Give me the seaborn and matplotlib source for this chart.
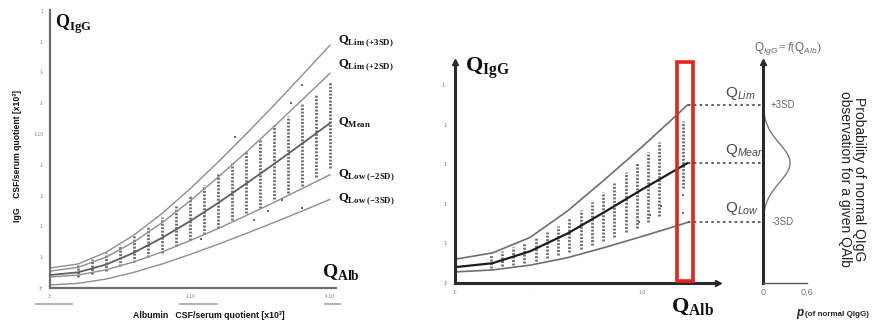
import matplotlib
matplotlib.use("Agg")
import matplotlib.pyplot as plt
import matplotlib.transforms as mtransforms
from matplotlib.patches import Rectangle
import pandas as pd
import seaborn as sns

# ---------------- left panel: Reiber diagram, QAlb vs QIgG ----------------
alb_grid = [0, 1, 2, 3, 4, 5, 6, 7, 8, 9, 10]
q_lim_3sd = [0.65, 0.78, 1.16, 1.72, 2.42, 3.22, 4.09, 5.00, 5.94, 6.91, 7.89]
q_lim_2sd = [0.55, 0.67, 1.00, 1.50, 2.12, 2.83, 3.60, 4.41, 5.25, 6.11, 6.98]
q_mean = [0.42, 0.51, 0.76, 1.15, 1.63, 2.17, 2.76, 3.39, 4.03, 4.69, 5.36]
q_low_2sd = [0.36, 0.42, 0.59, 0.85, 1.17, 1.54, 1.93, 2.35, 2.78, 3.23, 3.68]
q_low_3sd = [0.10, 0.15, 0.29, 0.51, 0.78, 1.09, 1.42, 1.77, 2.13, 2.50, 2.88]
curve_names = ["Lim (+3SD)", "Lim (+2SD)", "Mean", "Low (-2SD)", "Low (-3SD)"]

# stacked patient observations, one column per QAlb class
obs_alb = [1.0, 1.5, 2.0, 2.5, 3.0, 3.5, 4.0, 4.5, 5.0, 5.5, 6.0, 6.5, 7.0,
           7.5, 8.0, 8.5, 9.0, 9.5, 10.0]
obs_top = [0.75, 0.95, 1.15, 1.40, 1.70, 2.00, 2.30, 2.65, 3.00, 3.35, 3.70,
           4.05, 4.45, 4.85, 5.30, 5.60, 6.00, 6.30, 6.70]
obs_bot = [0.35, 0.45, 0.55, 0.70, 0.85, 1.00, 1.15, 1.35, 1.55, 1.75, 1.95,
           2.20, 2.45, 2.60, 2.90, 3.10, 3.30, 3.60, 3.90]
single_alb = [9.0, 8.6, 9.0, 8.3, 7.3, 5.4, 6.6, 7.8]
single_igg = [6.6, 6.0, 2.6, 2.85, 2.2, 1.6, 4.9, 2.5]

x_tick_labels = ["1⁰", "", "", "", "", "1·10", "", "", "", "", "4·10"]
y_tick_labels = ["1⁰", "1·", "1·", "1·", "1·", "1·10", "1·", "1·", "1·", "1"]

# ---------------- right panel: one QAlb class in detail ----------------
alb_r = [0, 1, 2, 3, 4, 5, 6, 6.2]
r_upper = [0.60, 0.76, 1.15, 1.82, 2.62, 3.45, 4.32, 4.50]
r_mean = [0.40, 0.50, 0.80, 1.25, 1.80, 2.37, 2.92, 3.03]
r_lower = [0.28, 0.33, 0.45, 0.64, 0.90, 1.18, 1.47, 1.53]

r_obs_alb = [0.95, 1.25, 1.55, 1.85, 2.15, 2.45, 2.75, 3.05, 3.35, 3.65, 3.95,
             4.25, 4.55, 4.85, 5.15, 5.45, 6.08]
r_obs_top = [0.72, 0.82, 0.92, 1.02, 1.15, 1.30, 1.45, 1.65, 1.85, 2.05, 2.30,
             2.55, 2.80, 3.05, 3.30, 3.55, 4.10]
r_obs_bot = [0.38, 0.42, 0.46, 0.50, 0.55, 0.62, 0.70, 0.78, 0.86, 0.95, 1.05,
             1.15, 1.28, 1.40, 1.55, 1.70, 2.40]
r_single_alb = [6.08, 6.08, 5.2, 4.9, 5.5]
r_single_igg = [2.22, 1.77, 1.72, 1.55, 1.95]
selected_alb = (5.92, 6.35)

# distribution of QIgG within the selected class
z_sd = [-3.0, -2.75, -2.5, -2.25, -2.0, -1.75, -1.5, -1.25, -1.0, -0.75, -0.5,
        -0.25, 0.0, 0.25, 0.5, 0.75, 1.0, 1.25, 1.5, 1.75, 2.0, 2.25, 2.5,
        2.75, 3.0]
p_obs = [0.004, 0.008, 0.016, 0.029, 0.05, 0.08, 0.12, 0.169, 0.224, 0.279,
         0.327, 0.359, 0.37, 0.359, 0.327, 0.279, 0.224, 0.169, 0.12, 0.08,
         0.05, 0.029, 0.016, 0.008, 0.004]

# ---------------- styling ----------------
sns.set_theme(style="white")
plt.rcParams.update({
    "font.family": ["Liberation Sans", "DejaVu Sans"],
    "mathtext.fontset": "custom",
    "mathtext.rm": "Liberation Serif",
    "mathtext.bf": "Liberation Serif:bold",
    "mathtext.sf": "Liberation Sans",
    "mathtext.it": "Liberation Sans:italic",
})

W, H = 894, 323
fig = plt.figure(figsize=(W / 100, H / 100), dpi=100)

DOT = (0, (0.7, 0.55))
DOT_COLOR = "#6a6a6a"


def box(l, t, r, b):
    return fig.add_axes([l / W, 1 - b / H, (r - l) / W, (b - t) / H])


def fx(px):
    return px / W


def fy(py):
    return 1 - py / H


# ======== left panel ========
ax1 = box(50, 10, 336, 288)
ax1.set_xlim(0, 10.21)
ax1.set_ylim(0, 9.03)
sns.despine(ax=ax1)
for s in ("left", "bottom"):
    ax1.spines[s].set_color("#6e6e6e")
    ax1.spines[s].set_linewidth(1.6)
ax1.set_xticks(range(11))
ax1.set_yticks(range(10))
ax1.set_xticklabels(x_tick_labels)
ax1.set_yticklabels(y_tick_labels)
ax1.tick_params(length=3, width=1, color="#6e6e6e", labelsize=3.5,
                labelcolor="#8a7aa8", pad=1.5)

ax1.vlines(obs_alb, obs_bot, obs_top, colors=DOT_COLOR, linewidth=2.0,
           linestyles=DOT)
sns.scatterplot(x=single_alb, y=single_igg, ax=ax1, s=3, marker="s",
                color=DOT_COLOR, linewidth=0)

left_curves = [q_lim_3sd, q_lim_2sd, q_mean, q_low_2sd, q_low_3sd]
label_dy = [3, 6, 0, 0, 0]
for name, vals, dy in zip(curve_names, left_curves, label_dy):
    df = pd.DataFrame({"alb": alb_grid, "igg": vals})
    is_mean = name == "Mean"
    sns.lineplot(data=df, x="alb", y="igg", ax=ax1, estimator=None, sort=False,
                 color="#5e5e5e" if is_mean else "#8e8e8e",
                 linewidth=1.3 if is_mean else 1.0)
    ax1.annotate(r"$\mathbf{Q}_{\mathbf{" + name.replace(" ", r"\ ") + "}}$",
                 xy=(alb_grid[-1], vals[-1]), xytext=(6, dy),
                 textcoords="offset points", fontsize=9, va="center",
                 ha="left", color="#111111", annotation_clip=False)
ax1.set_xlabel("")
ax1.set_ylabel("")

# underline marks below the tick labels
blend = mtransforms.blended_transform_factory(ax1.transData, ax1.transAxes)
for x0, x1 in [(-0.5, 0.8), (4.64, 5.96), (9.82, 10.36)]:
    ax1.plot([x0, x1], [-0.058, -0.058], transform=blend, clip_on=False,
             color="#b4b4b4", linewidth=1.5)

fig.text(fx(55), fy(28), r"$\mathbf{Q}_{\mathbf{IgG}}$", fontsize=13,
         color="#111111", ha="left", va="baseline")
fig.text(fx(322), fy(277), r"$\mathbf{Q}_{\mathbf{Alb}}$", fontsize=14,
         color="#111111", ha="left", va="baseline")
fig.text(fx(209), fy(316), "Albumin   CSF/serum quotient [x10³]",
         fontsize=6.3, fontweight="bold", ha="center", va="center",
         color="#111111")
fig.text(fx(18), fy(156), "IgG    CSF/serum quotient [x10³]",
         fontsize=6.2, fontweight="bold", ha="center", va="center",
         rotation=90, color="#111111")

# ======== right panel ========
ax2 = box(455, 62, 718, 283)
ax2.set_xlim(0, 7.01)
ax2.set_ylim(0, 5.58)
sns.despine(ax=ax2)
for s in ("left", "bottom"):
    ax2.spines[s].set_color("#2a2a2a")
    ax2.spines[s].set_linewidth(2.2)
ax2.set_xticks(range(7))
ax2.set_yticks(range(6))
ax2.set_xticklabels(["1⁰", "", "·", "", "", "1·0", ""])
ax2.set_yticklabels(["1⁰", "1·", "1·", "1·", "1·", "1··"])
ax2.tick_params(length=3, width=1.4, color="#2a2a2a", labelsize=3.5,
                labelcolor="#5a72c0", pad=2)
ax2.plot(0, 1, marker="^", ms=5, color="#2a2a2a", transform=ax2.transAxes,
         clip_on=False)
ax2.plot(1, 0, marker=">", ms=5, color="#2a2a2a", transform=ax2.transAxes,
         clip_on=False)

ax2.vlines(r_obs_alb, r_obs_bot, r_obs_top, colors=DOT_COLOR, linewidth=2.0,
           linestyles=DOT)
sns.scatterplot(x=r_single_alb, y=r_single_igg, ax=ax2, s=3, marker="s",
                color=DOT_COLOR, linewidth=0)
for vals, col, lw in [(r_upper, "#6e6e6e", 1.2), (r_lower, "#6e6e6e", 1.2),
                      (r_mean, "#1c1c1c", 1.6)]:
    sns.lineplot(x=alb_r, y=vals, ax=ax2, estimator=None, sort=False,
                 color=col, linewidth=lw)
ax2.set_xlabel("")
ax2.set_ylabel("")

ax2.add_patch(Rectangle((selected_alb[0], 0.05), selected_alb[1] - selected_alb[0],
                        5.53, fill=False, edgecolor="#e3251c", linewidth=2.6,
                        clip_on=False, zorder=5))

levels = [r_upper[-1], r_mean[-1], r_lower[-1]]
ax2.hlines(levels, alb_r[-1], 8.21, colors="#444444", linewidth=1.2,
           linestyles=(0, (1.5, 2.0)), clip_on=False)
for lev, sub, dy in zip(levels, ["Lim", "Mean", "Low"], [2, 3, 4]):
    ax2.annotate(r"$\mathsf{Q}_{\mathit{" + sub + "}}$", xy=(7.2, lev),
                 xytext=(0, dy), textcoords="offset points", fontsize=11,
                 color="#4a4a4a", ha="left", va="bottom",
                 annotation_clip=False)

fig.text(fx(465), fy(72), r"$\mathbf{Q}_{\mathbf{IgG}}$", fontsize=16,
         color="#111111", ha="left", va="baseline")
fig.text(fx(671), fy(312), r"$\mathbf{Q}_{\mathbf{Alb}}$", fontsize=16,
         color="#111111", ha="left", va="baseline")

# ======== probability axis ========
ax3 = box(763, 62, 807, 283)
ax3.set_xlim(0, 0.6)
ax3.set_ylim(0, 5.58)
sns.despine(ax=ax3)
ax3.spines["left"].set_color("#2a2a2a")
ax3.spines["left"].set_linewidth(2.2)
ax3.spines["bottom"].set_color("#555555")
ax3.spines["bottom"].set_linewidth(1.0)
ax3.set_xticks([0, 0.15, 0.3, 0.45, 0.6])
ax3.set_xticklabels(["0", "", "", "", "0,6"])
ax3.set_yticks(levels)
ax3.set_yticklabels([])
ax3.tick_params(axis="x", length=3, width=1, color="#555555", labelsize=6.5,
                labelcolor="#777777", pad=2, direction="inout")
ax3.tick_params(axis="y", length=5, width=1.6, color="#2a2a2a",
                direction="inout")
ax3.plot(0, 1, marker="^", ms=5, color="#2a2a2a", transform=ax3.transAxes,
         clip_on=False)

sd_step = (r_upper[-1] - r_lower[-1]) / 6
q_levels = [r_mean[-1] + z * sd_step for z in z_sd]
sns.lineplot(x=p_obs, y=q_levels, ax=ax3, estimator=None, sort=False,
             color="#7a7a7a", linewidth=1.0)
ax3.set_xlabel("")
ax3.set_ylabel("")
ax3.text(0.1, levels[0], "+3SD", fontsize=7, color="#666666", va="center",
         ha="left")
ax3.text(0.12, levels[2], "-3SD", fontsize=7, color="#666666", va="center",
         ha="left")

fig.text(fx(788), fy(49),
         r"$\mathsf{Q}_{\mathit{IgG}}=\mathit{f}(\mathsf{Q}_{\mathit{Alb}})$",
         fontsize=8.5, color="#666666", ha="center", va="center")
fig.text(fx(796), fy(316), "p", fontsize=8.5, fontweight="bold",
         fontstyle="italic", color="#222222", ha="left", va="baseline")
fig.text(fx(805), fy(316), "(of normal QIgG)", fontsize=5.8,
         fontweight="bold", color="#222222", ha="left", va="baseline")
fig.text(fx(852), fy(179),
         "Probability of normal QIgG\nobservation for a given QAlb",
         fontsize=10, rotation=270, ha="center", va="center",
         linespacing=1.05, color="#222222")

fig.savefig("out.png", dpi=100)
